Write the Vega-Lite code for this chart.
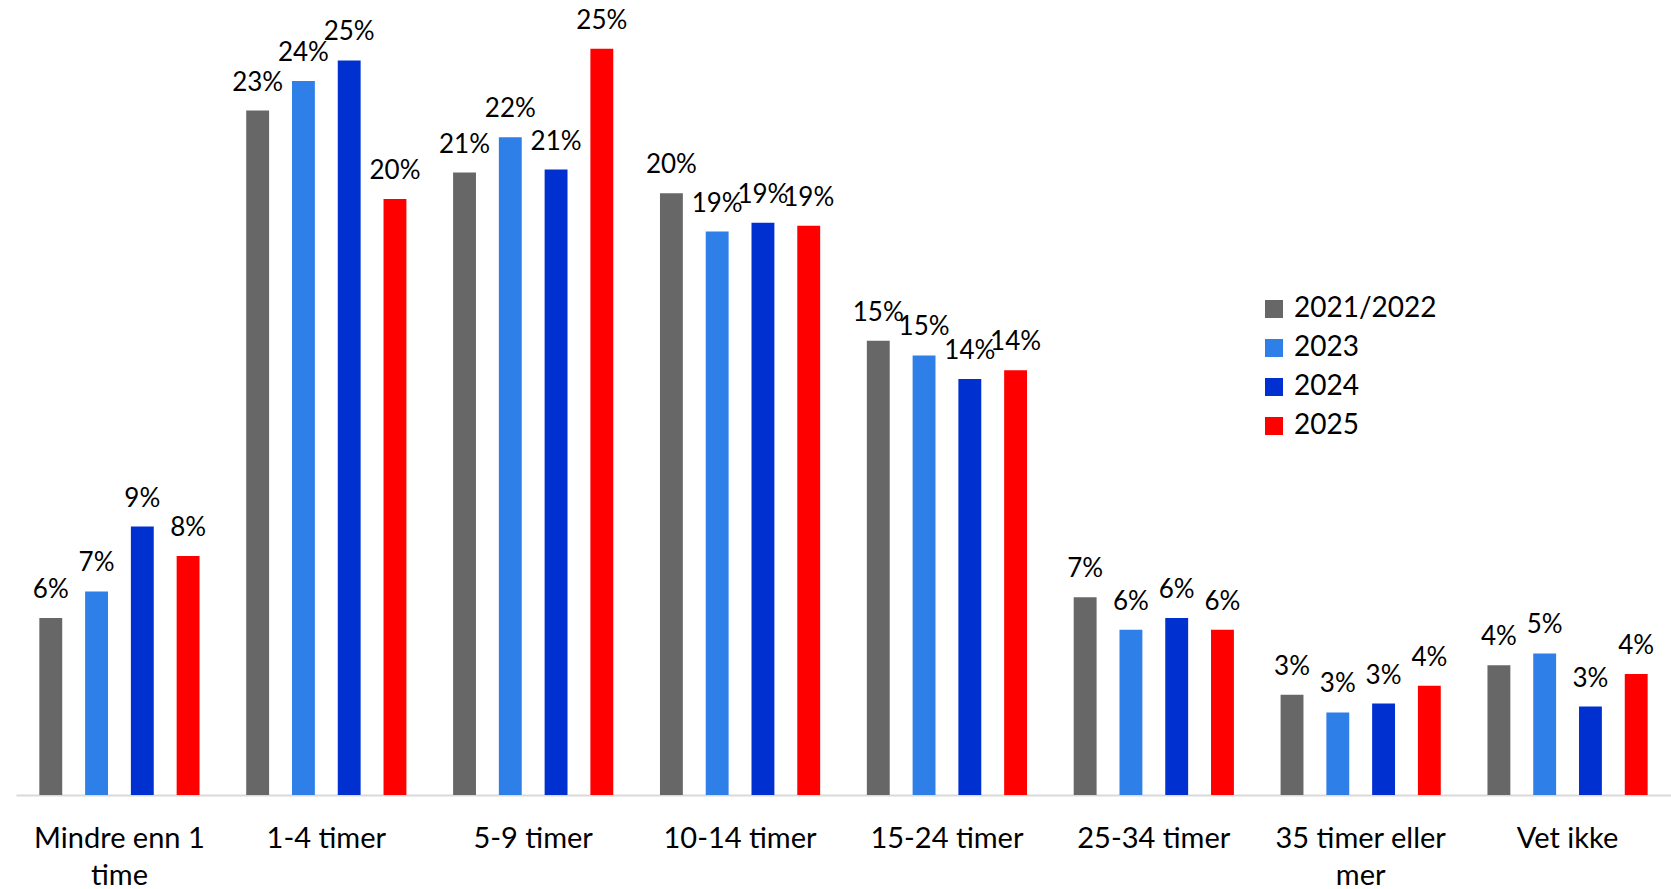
{
  "$schema": "https://vega.github.io/schema/vega-lite/v6.json",
  "width": 1655,
  "height": 795,
  "padding": {"left": 16, "top": 0, "right": 0, "bottom": 94},
  "autosize": {"type": "none"},
  "background": "white",
  "config": {"view": {"stroke": null}, "font": "Lato"},
  "data": {"values": [
    {"category": "Mindre enn 1 time", "year": "2021/2022", "value": 0.060},
    {"category": "Mindre enn 1 time", "year": "2023", "value": 0.069},
    {"category": "Mindre enn 1 time", "year": "2024", "value": 0.091},
    {"category": "Mindre enn 1 time", "year": "2025", "value": 0.081},
    {"category": "1-4 timer", "year": "2021/2022", "value": 0.232},
    {"category": "1-4 timer", "year": "2023", "value": 0.242},
    {"category": "1-4 timer", "year": "2024", "value": 0.249},
    {"category": "1-4 timer", "year": "2025", "value": 0.202},
    {"category": "5-9 timer", "year": "2021/2022", "value": 0.211},
    {"category": "5-9 timer", "year": "2023", "value": 0.223},
    {"category": "5-9 timer", "year": "2024", "value": 0.212},
    {"category": "5-9 timer", "year": "2025", "value": 0.253},
    {"category": "10-14 timer", "year": "2021/2022", "value": 0.204},
    {"category": "10-14 timer", "year": "2023", "value": 0.191},
    {"category": "10-14 timer", "year": "2024", "value": 0.194},
    {"category": "10-14 timer", "year": "2025", "value": 0.193},
    {"category": "15-24 timer", "year": "2021/2022", "value": 0.154},
    {"category": "15-24 timer", "year": "2023", "value": 0.149},
    {"category": "15-24 timer", "year": "2024", "value": 0.141},
    {"category": "15-24 timer", "year": "2025", "value": 0.144},
    {"category": "25-34 timer", "year": "2021/2022", "value": 0.067},
    {"category": "25-34 timer", "year": "2023", "value": 0.056},
    {"category": "25-34 timer", "year": "2024", "value": 0.060},
    {"category": "25-34 timer", "year": "2025", "value": 0.056},
    {"category": "35 timer eller mer", "year": "2021/2022", "value": 0.034},
    {"category": "35 timer eller mer", "year": "2023", "value": 0.028},
    {"category": "35 timer eller mer", "year": "2024", "value": 0.031},
    {"category": "35 timer eller mer", "year": "2025", "value": 0.037},
    {"category": "Vet ikke", "year": "2021/2022", "value": 0.044},
    {"category": "Vet ikke", "year": "2023", "value": 0.048},
    {"category": "Vet ikke", "year": "2024", "value": 0.030},
    {"category": "Vet ikke", "year": "2025", "value": 0.041}
  ]},
  "encoding": {
    "x": {
      "field": "category", "type": "nominal", "title": null,
      "sort": ["Mindre enn 1 time", "1-4 timer", "5-9 timer", "10-14 timer", "15-24 timer", "25-34 timer", "35 timer eller mer", "Vet ikke"],
      "scale": {"paddingInner": 0, "paddingOuter": 0},
      "axis": {
        "domainColor": "#d9d9d9", "domainWidth": 2, "ticks": false, "labelAngle": 0,
        "labelFontSize": 29, "labelColor": "black", "labelPadding": 52,
        "labelBaseline": "alphabetic", "labelLineHeight": 37, "labelLimit": 0,
        "labelExpr": "datum.value == 'Mindre enn 1 time' ? ['Mindre enn 1', 'time'] : datum.value == '35 timer eller mer' ? ['35 timer eller', 'mer'] : datum.value"
      }
    },
    "xOffset": {
      "field": "year", "type": "nominal",
      "sort": ["2021/2022", "2023", "2024", "2025"],
      "scale": {"paddingInner": 0.5, "paddingOuter": 0.51}
    },
    "y": {
      "field": "value", "type": "quantitative",
      "scale": {"domain": [0, 0.2695], "nice": false, "zero": true},
      "axis": null
    }
  },
  "layer": [
    {
      "mark": {"type": "bar"},
      "encoding": {
        "color": {
          "field": "year", "type": "nominal",
          "sort": ["2021/2022", "2023", "2024", "2025"],
          "scale": {"domain": ["2021/2022", "2023", "2024", "2025"], "range": ["#676767", "#2F7FE9", "#0030D0", "#FF0000"]},
          "legend": {
            "orient": "none", "legendX": 1244, "legendY": 295, "title": null,
            "symbolType": "square", "symbolSize": 324, "symbolStrokeWidth": 0, "symbolOpacity": 1,
            "labelFontSize": 28, "labelColor": "black", "labelOffset": 6, "rowPadding": 11
          }
        }
      }
    },
    {
      "mark": {"type": "text", "baseline": "alphabetic", "dy": -20, "fontSize": 26, "color": "black"},
      "encoding": {
        "text": {"field": "value", "type": "quantitative", "format": ".0%"}
      }
    }
  ]
}
